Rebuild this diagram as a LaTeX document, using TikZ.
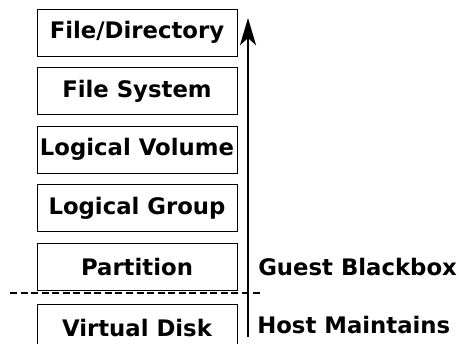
\documentclass[tikz,border=0pt]{standalone}
\usepackage{fontspec}
\setmainfont{DejaVu Sans}
\usetikzlibrary{positioning,arrows.meta}

\begin{document}
\begin{tikzpicture}[
        % 通用樣式
        layer/.style={draw, line width=0.7pt, minimum width=5cm, minimum height=1.175cm,
                      inner sep=0pt, font=\bfseries\fontsize{16.2}{19}\selectfont}, % 層方塊
        side label/.style={anchor=west, inner sep=0pt, font=\bfseries\fontsize{16.2}{19}\selectfont}, % 右側文字
        border line/.style={dashed, line width=1pt, dash pattern=on 5pt off 2.5pt}, % 分界虛線
        stack arrow/.style={line width=2pt, -{Stealth[length=0.68cm, width=0.4cm, inset=0.18cm]}} % 箭頭
    ]

        % 固定圖片大小
        \useasboundingbox (0,0) rectangle (11.5,-8.575);

        % --- 層堆疊 ---
        \node[layer] (file) at (3.425,-0.8125) {File/Directory};
        \node[layer, below=0.265cm of file] (fs) {File System};
        \node[layer, below=0.265cm of fs] (lv) {Logical Volume};
        \node[layer, below=0.265cm of lv] (lg) {Logical Group};
        \node[layer, below=0.265cm of lg] (part) {Partition};
        \node[layer, below=0.325cm of part] (vdisk) {Virtual Disk};

        % --- 分界虛線 ---
        \coordinate (split left) at (0.25,-7.325);
        \coordinate (split right) at (6.575,-7.325);
        \draw[border line] (split left) -- (split right);

        % --- 向上箭頭 ---
        \coordinate (arrow start) at (6.2,-8.425);
        \coordinate (arrow end) at (6.2,-0.45);
        \draw[stack arrow] (arrow start) -- (arrow end);

        % --- 右側說明 ---
        \node[side label] (guest) at (6.45,-6.675) {Guest Blackbox};
        \node[side label] (host) at (6.425,-8.125) {Host Maintains};

    \end{tikzpicture}
\end{document}
